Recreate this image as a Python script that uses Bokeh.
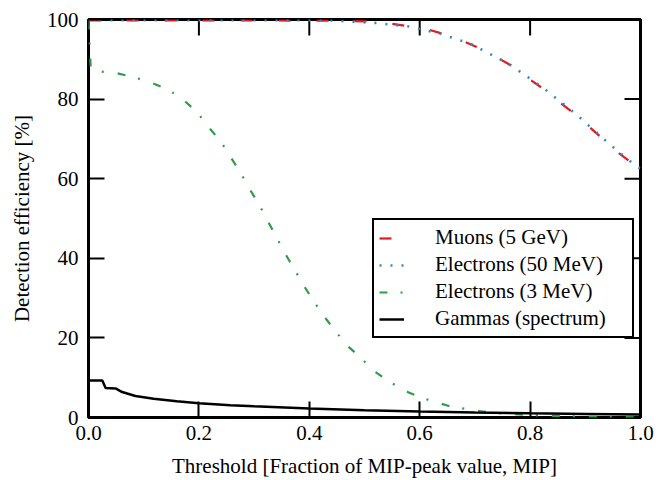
import math
from bokeh.plotting import figure
from bokeh.models import FixedTicker, PrintfTickFormatter, Legend, LegendItem, Range1d
from bokeh.embed import file_html
from bokeh.resources import INLINE

# ---- data ----
mu_x = [0.0, 0.05, 0.1, 0.2, 0.3, 0.4, 0.45, 0.511, 0.55, 0.589, 0.62, 0.661, 0.7, 0.728, 0.761, 0.788, 0.825, 0.846, 0.885, 0.903, 0.942, 0.957, 0.987, 1.0]
mu_y = [99.8, 99.8, 99.8, 99.8, 99.8, 99.7, 99.7, 99.5, 98.9, 98.1, 97.3, 95.6, 93.3, 91.4, 88.8, 86.0, 82.5, 80.0, 75.8, 73.5, 68.8, 66.8, 63.7, 62.5]

e50_x = [0.0, 0.05, 0.1, 0.2, 0.3, 0.4, 0.444, 0.523, 0.58, 0.638, 0.692, 0.761, 0.825, 0.885, 0.942, 0.987, 1.0]
e50_y = [99.8, 99.8, 99.8, 99.8, 99.8, 99.8, 99.75, 99.1, 98.25, 96.4, 93.9, 88.9, 82.7, 76.0, 68.9, 63.75, 62.5]

e3_x = [0.0, 0.004, 0.016, 0.052, 0.082, 0.112, 0.143, 0.172, 0.197, 0.217, 0.239, 0.257, 0.275, 0.292, 0.309, 0.325, 0.341, 0.357, 0.374, 0.391, 0.409, 0.428, 0.449, 0.47, 0.494, 0.516, 0.547, 0.58, 0.607, 0.65, 0.705, 0.75, 0.8, 0.85, 0.9, 0.95, 1.0]
e3_y = [99.5, 88.0, 87.0, 86.5, 85.5, 84.2, 82.5, 79.8, 76.7, 73.0, 69.5, 65.5, 61.6, 57.4, 53.5, 49.3, 45.2, 41.0, 37.0, 32.9, 29.0, 25.2, 21.4, 17.9, 14.9, 11.8, 8.8, 6.3, 4.8, 3.0, 1.6, 1.0, 0.6, 0.35, 0.2, 0.1, 0.05]

gam_x = [0.0, 0.025, 0.031, 0.049, 0.061, 0.085, 0.118, 0.16, 0.2, 0.257, 0.3, 0.4, 0.5, 0.6, 0.7, 0.8, 0.9, 1.0]
gam_y = [9.3, 9.3, 7.4, 7.3, 6.4, 5.4, 4.7, 4.1, 3.6, 3.1, 2.8, 2.25, 1.85, 1.5, 1.25, 1.05, 0.9, 0.75]

x_ticks = [0.0, 0.2, 0.4, 0.6, 0.8, 1.0]
y_ticks = [0, 20, 40, 60, 80, 100]

labels = ["Muons (5 GeV)", "Electrons (50 MeV)", "Electrons (3 MeV)", "Gammas (spectrum)"]
colors = ["#e41a1c", "#3288c8", "#2e9d4a", "black"]

FONT = "serif"
X_MIN, X_MAX = 0.0, 1.0
Y_MIN, Y_MAX = 0, 100

p = figure(width=666, height=480, output_backend="svg", toolbar_location=None,
           x_range=Range1d(X_MIN, X_MAX), y_range=Range1d(Y_MIN, Y_MAX),
           min_border_left=88, min_border_right=26, min_border_top=19, min_border_bottom=61)
p.xgrid.visible = False
p.ygrid.visible = False
p.outline_line_color = "black"
p.outline_line_width = 3
p.background_fill_color = "white"
p.border_fill_color = "white"

TICK_LEN = 16

for ax, ticks, fmt in ((p.xaxis[0], x_ticks, "%.1f"), (p.yaxis[0], y_ticks, "%d")):
    ax.ticker = FixedTicker(ticks=ticks)
    ax.formatter = PrintfTickFormatter(format=fmt)
    ax.axis_line_color = None
    ax.major_tick_in = TICK_LEN
    ax.major_tick_out = 0
    ax.major_tick_line_width = 2
    ax.major_tick_line_color = "black"
    ax.minor_tick_line_color = None
    ax.major_label_text_font = FONT
    ax.major_label_text_font_size = "21px"
    ax.major_label_text_color = "black"
    ax.axis_label_text_font = FONT
    ax.axis_label_text_font_size = "21px"
    ax.axis_label_text_font_style = "normal"
    ax.axis_label_text_color = "black"

p.xaxis[0].major_label_standoff = 8
p.yaxis[0].major_label_standoff = 10
p.xaxis[0].axis_label = "Threshold [Fraction of MIP-peak value, MIP]"
p.yaxis[0].axis_label = "Detection efficiency [%]"
p.xaxis[0].axis_label_standoff = 11
p.yaxis[0].axis_label_standoff = 10

# mirrored ticks on top and right edges (screen-length rays from the frame edges)
p.ray(x=x_ticks, y=[Y_MAX] * len(x_ticks), length=TICK_LEN, length_units="screen",
      angle=-math.pi / 2, line_color="black", line_width=2)
p.ray(x=[X_MAX] * len(y_ticks), y=y_ticks, length=TICK_LEN, length_units="screen",
      angle=math.pi, line_color="black", line_width=2)

r_mu = p.line(mu_x, mu_y, line_color=colors[0], line_width=2.2, line_dash="12 26")
r_e50 = p.line(e50_x, e50_y, line_color=colors[1], line_width=2.6, line_dash="2 9")
r_e3 = p.line(e3_x, e3_y, line_color=colors[2], line_width=2.2, line_dash="8 13 2 14")
r_gam = p.line(gam_x, gam_y, line_color=colors[3], line_width=2.5)

legend = Legend(items=[LegendItem(label=labels[i], renderers=[r]) for i, r in enumerate([r_mu, r_e50, r_e3, r_gam])],
                location=(284, 79))
legend.label_text_font = FONT
legend.label_text_font_size = "21px"
legend.label_text_color = "black"
legend.border_line_color = "black"
legend.border_line_alpha = 1
legend.border_line_width = 2
legend.background_fill_color = "white"
legend.background_fill_alpha = 1
legend.padding = 5
legend.margin = 0
legend.spacing = 2
legend.glyph_width = 25
legend.glyph_height = 20
legend.label_height = 20
legend.label_standoff = 31
legend.label_width = 192
p.add_layout(legend, "center")

open("out.html", "w").write(file_html(p, INLINE))
